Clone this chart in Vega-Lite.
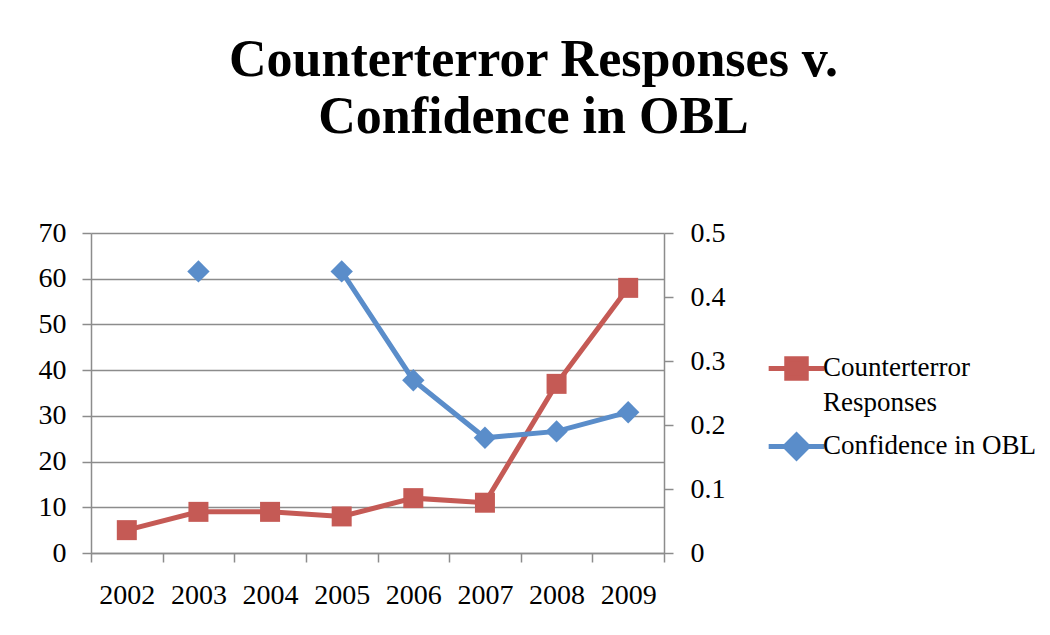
{
  "$schema": "https://vega.github.io/schema/vega-lite/v6.json",
  "width": 573,
  "height": 320,
  "autosize": {"type": "none"},
  "padding": {"left": 91, "top": 233, "right": 386, "bottom": 82},
  "background": "white",
  "config": {
    "view": {"stroke": null},
    "font": "Liberation Serif",
    "axis": {
      "labelFont": "Liberation Serif",
      "labelFontSize": 28,
      "labelColor": "#000000",
      "domainColor": "#8C8C8C",
      "domainWidth": 1.5,
      "tickColor": "#8C8C8C",
      "tickWidth": 1.5,
      "tickSize": 9,
      "gridColor": "#8C8C8C",
      "gridWidth": 1.5,
      "gridOpacity": 1,
      "title": null
    }
  },
  "title": {
    "text": ["Counterterror Responses v.", "Confidence in OBL"],
    "font": "Liberation Serif",
    "fontWeight": "bold",
    "fontSize": 52,
    "lineHeight": 57,
    "color": "#000000",
    "anchor": "middle",
    "dx": 156,
    "offset": 75
  },
  "data": {
    "values": [
      {"year": "2002", "series": "Counterterror Responses", "value": 5},
      {"year": "2003", "series": "Counterterror Responses", "value": 9},
      {"year": "2004", "series": "Counterterror Responses", "value": 9},
      {"year": "2005", "series": "Counterterror Responses", "value": 8},
      {"year": "2006", "series": "Counterterror Responses", "value": 12},
      {"year": "2007", "series": "Counterterror Responses", "value": 11},
      {"year": "2008", "series": "Counterterror Responses", "value": 37},
      {"year": "2009", "series": "Counterterror Responses", "value": 58},
      {"year": "2002", "series": "Confidence in OBL", "value": null},
      {"year": "2003", "series": "Confidence in OBL", "value": 0.44},
      {"year": "2004", "series": "Confidence in OBL", "value": null},
      {"year": "2005", "series": "Confidence in OBL", "value": 0.44},
      {"year": "2006", "series": "Confidence in OBL", "value": 0.27},
      {"year": "2007", "series": "Confidence in OBL", "value": 0.18},
      {"year": "2008", "series": "Confidence in OBL", "value": 0.19},
      {"year": "2009", "series": "Confidence in OBL", "value": 0.22}
    ]
  },
  "encoding": {
    "x": {
      "field": "year",
      "type": "ordinal",
      "scale": {"type": "band", "paddingInner": 0, "paddingOuter": 0},
      "axis": {"labelAngle": 0, "tickBand": "extent", "labelPadding": 19, "grid": false}
    }
  },
  "layer": [
    {
      "transform": [{"filter": "datum.series == 'Counterterror Responses'"}],
      "encoding": {
        "y": {
          "field": "value",
          "type": "quantitative",
          "scale": {"domain": [0, 70], "nice": false},
          "axis": {"orient": "left", "values": [0, 10, 20, 30, 40, 50, 60, 70], "grid": true, "labelPadding": 16}
        }
      },
      "layer": [
        {"mark": {"type": "line", "color": "#C55A55", "strokeWidth": 5}},
        {"mark": {"type": "point", "shape": "square", "filled": true, "size": 400, "color": "#C55A55", "opacity": 1}}
      ]
    },
    {
      "transform": [{"filter": "datum.series == 'Confidence in OBL'"}],
      "encoding": {
        "y": {
          "field": "value",
          "type": "quantitative",
          "scale": {"domain": [0, 0.5], "nice": false},
          "axis": {"orient": "right", "values": [0, 0.1, 0.2, 0.3, 0.4, 0.5], "grid": false, "labelPadding": 17,
                   "labelExpr": "datum.value == 0 ? '0' : format(datum.value, '.1f')"}
        }
      },
      "layer": [
        {"mark": {"type": "line", "color": "#5A8DCA", "strokeWidth": 5}},
        {"mark": {"type": "point", "shape": "diamond", "filled": true, "size": 500, "color": "#5A8DCA", "opacity": 1}}
      ]
    },
    {
      "transform": [{"filter": "datum.year == '2009'"}],
      "mark": {"type": "point", "filled": true, "opacity": 0},
      "encoding": {
        "fill": {
          "field": "series",
          "type": "nominal",
          "scale": {"domain": ["Counterterror Responses", "Confidence in OBL"], "range": ["#C55A55", "#5A8DCA"]},
          "legend": {
            "title": null,
            "orient": "none",
            "legendX": 675,
            "legendY": 105,
            "symbolSize": 3100,
            "symbolStrokeWidth": 5,
            "symbolOpacity": 1,
            "labelFont": "Liberation Serif",
            "labelFontSize": 27,
            "labelColor": "#000000",
            "labelOffset": -4,
            "labelBaseline": "top",
            "labelLimit": 400,
            "rowPadding": 0,
            "labelExpr": "datum.label == 'Counterterror Responses' ? ['Counterterror', 'Responses'] : datum.label",
            "encode": {"labels": {"update": {"dy": {"value": -14}, "lineHeight": {"value": 35}}}}
          }
        },
        "stroke": {
          "field": "series",
          "type": "nominal",
          "scale": {"domain": ["Counterterror Responses", "Confidence in OBL"], "range": ["#C55A55", "#5A8DCA"]}
        },
        "shape": {
          "field": "series",
          "type": "nominal",
          "scale": {
            "domain": ["Counterterror Responses", "Confidence in OBL"],
            "range": ["M-1,0H1M-0.35,-0.35H0.35V0.35H-0.35Z", "M-1,0H1M0,-0.41L0.41,0L0,0.41L-0.41,0Z"]
          }
        }
      }
    }
  ],
  "resolve": {"scale": {"y": "independent"}}
}
